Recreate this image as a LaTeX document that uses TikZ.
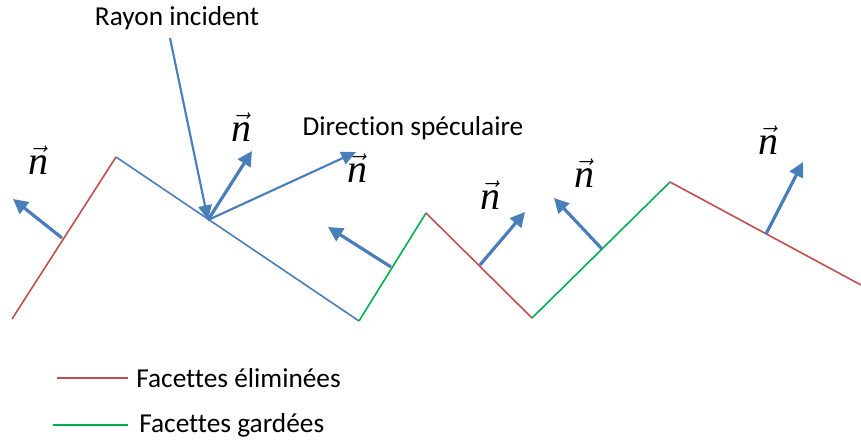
\documentclass[tikz,border=0pt]{standalone}
\usepackage{fontspec}
\setmainfont{Carlito}[Ligatures=CommonOff]
\newfontfamily\timesfam{Liberation Serif}
\usetikzlibrary{arrows.meta}
\definecolor{cblue}{HTML}{4A7EBB}
\definecolor{cred}{HTML}{C0504D}
\definecolor{cgreen}{HTML}{00B050}
\newcommand{\nvec}{\ensuremath{\vec{\mbox{\timesfam\itshape n}}}}
\begin{document}
\begin{tikzpicture}[x=0.75pt,y=-0.75pt,
  surf/.style={line width=1.2pt},
  normalarrow/.style={cblue,line width=2.4pt,-{Triangle[length=11pt,width=11pt]}},
  rayarrow/.style={cblue,line width=1.6pt,-{Triangle[length=11pt,width=10pt]}},
  lbl/.style={font=\fontsize{20.5}{24}\selectfont,inner sep=0pt},
  nlbl/.style={font=\fontsize{30}{32}\selectfont,inner sep=0pt}]
\useasboundingbox (0,0) rectangle (861,441);
% surface vertices
\coordinate (p0) at (12,319);
\coordinate (p1) at (116,157);
\coordinate (p2) at (359,321);
\coordinate (p3) at (426,213);
\coordinate (p4) at (532,318);
\coordinate (p5) at (670,182);
\coordinate (p6) at (861,285);
\draw[surf,cred] (p0) -- (p1);
\draw[surf,cblue] (p1) -- (p2);
\draw[surf,cgreen] (p2) -- (p3);
\draw[surf,cred] (p3) -- (p4);
\draw[surf,cgreen] (p4) -- (p5);
\draw[surf,cred] (p5) -- (p6);
% incident ray and specular direction
\coordinate (hit) at (208,220);
\coordinate (src) at (170,38);
\coordinate (spec) at (356,152);
\draw[rayarrow] (src) -- (hit);
\draw[rayarrow] (hit) -- (spec);
% normals
\coordinate (b1) at (62,238); \coordinate (t1) at (13,199);
\coordinate (t2) at (252,151);
\coordinate (b3) at (391,267); \coordinate (t3) at (328,227);
\coordinate (b4) at (480,265); \coordinate (t4) at (525,212);
\coordinate (b5) at (602,249); \coordinate (t5) at (554,198);
\coordinate (b6) at (766,234); \coordinate (t6) at (803,162);
\draw[normalarrow] (b1) -- (t1);
\draw[normalarrow] (hit) -- (t2);
\draw[normalarrow] (b3) -- (t3);
\draw[normalarrow] (b4) -- (t4);
\draw[normalarrow] (b5) -- (t5);
\draw[normalarrow] (b6) -- (t6);
% labels
\node[lbl] (rayon) at (177,18) {Rayon incident};
\node[lbl] (dir) at (413,128) {Direction spéculaire};
\node[nlbl] (n1) at (38,160) {\nvec};
\node[nlbl] (n2) at (241,127) {\nvec};
\node[nlbl] (n3) at (357,168) {\nvec};
\node[nlbl] (n4) at (490,195) {\nvec};
\node[nlbl] (n5) at (584,173) {\nvec};
\node[nlbl] (n6) at (768,140) {\nvec};
% legend
\coordinate (lr1) at (57,378); \coordinate (lr2) at (128,378);
\coordinate (lg1) at (53,425); \coordinate (lg2) at (128,425);
\draw[surf,cred] (lr1) -- (lr2);
\draw[surf,cgreen] (lg1) -- (lg2);
\node[lbl,anchor=west] (elim) at (136,378) {Facettes éliminées};
\node[lbl,anchor=west] (gard) at (139,425) {Facettes gardées};
\end{tikzpicture}
\end{document}
